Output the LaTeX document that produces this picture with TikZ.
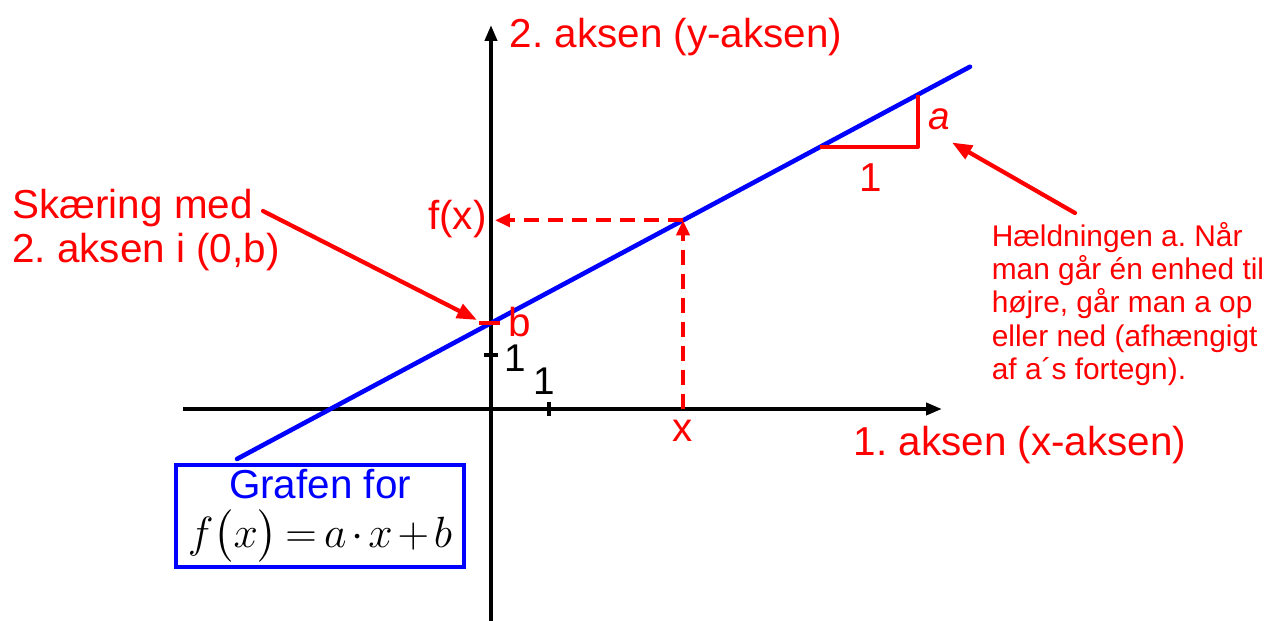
\documentclass[tikz,border=0pt]{standalone}
\usepackage{fontspec}
\setmainfont{Liberation Sans}
\usepackage{amsmath}
\usetikzlibrary{arrows.meta, calc}
\definecolor{lineRed}{RGB}{255,0,0}
\definecolor{lineBlue}{RGB}{0,0,255}
\frenchspacing
\tikzset{
    axis/.style={-{Triangle[length=3.2mm,width=2.4mm]}, line width=2.2pt, draw=black},
    graphline/.style={line width=2.6pt, draw=lineBlue, line cap=round},
    helper/.style={line width=2.2pt, draw=lineRed},
    dashhelp/.style={-{Triangle[length=3mm,width=2.6mm]}, line width=2.2pt, draw=lineRed,
        dash pattern=on 0.3cm off 0.18cm},
    pointer/.style={-{Triangle[length=4mm,width=3mm]}, line width=2.4pt, draw=lineRed, line cap=round},
    ticks/.style={line width=2.2pt, draw=black},
    biglabel/.style={font=\fontsize{23}{27}\selectfont, text=lineRed, inner sep=0pt},
    numlabel/.style={font=\fontsize{22}{26}\selectfont, inner sep=0pt},
    notelabel/.style={font=\fontsize{17}{19}\selectfont, text=lineRed, align=left, inner sep=0pt},
    graphbox/.style={draw=lineBlue, line width=2.2pt, minimum width=5.76cm, minimum height=2.04cm,
        align=center, inner sep=0pt}
}
\begin{document}
\begin{tikzpicture}
      \useasboundingbox (-9.82,-4.24) rectangle (15.54,8.18);
      % axes
      \coordinate (xL) at (-6.16,0); \coordinate (xR) at (9.02,0);
      \coordinate (yB) at (0,-4.24); \coordinate (yT) at (0,7.68);
      \draw[axis] (xL) -- (xR);
      \draw[axis] (yB) -- (yT);
      \coordinate (tx) at (1.16,0); \coordinate (ty) at (0,1.08);
      \draw[ticks] ($(tx)+(0,-0.14)$) -- ($(tx)+(0,0.14)$);
      \draw[ticks] ($(ty)+(-0.14,0)$) -- ($(ty)+(0.14,0)$);
      \node[numlabel] (one1) at (1.06,0.56) {1};
      \node[numlabel] (one2) at (0.48,1.02) {1};
      \node[biglabel] (ylab) at (3.70,7.44) {2. aksen (y-aksen)};
      \node[biglabel] (xlab) at (10.58,-0.72) {1. aksen (x-aksen)};
      % graph
      \coordinate (gL) at (-5.08,-1.0); \coordinate (gR) at (9.58,6.845);
      \draw[graphline] (gL) -- (gR);
      % x and f(x)
      \coordinate (X) at (3.84,0); \coordinate (FX) at (3.84,3.774);
      \coordinate (Fy) at (0.08,3.774);
      \draw[dashhelp] (X) -- (FX);
      \draw[dashhelp] (FX) -- (Fy);
      \node[biglabel] (xval) at (3.84,-0.44) {x};
      \node[biglabel, anchor=east] (fval) at (-0.08,3.80) {f(x)};
      % intercept
      \coordinate (bL) at (-0.24,1.72); \coordinate (bR) at (0.18,1.72);
      \draw[helper] (bL) -- (bR);
      \node[biglabel] (bval) at (0.58,1.74) {b};
      % slope triangle
      \coordinate (T1) at (6.58,5.24); \coordinate (T2) at (8.54,5.24);
      \coordinate (T3) at (8.54,6.289);
      \draw[helper, line join=round] (T1) -- (T2) -- (T3);
      \node[biglabel, font=\fontsize{22}{26}\selectfont\itshape] (aval) at (8.96,5.80) {a};
      \node[biglabel] (run) at (7.60,4.62) {1};
      % notes
      \node[biglabel, align=left, anchor=west, font=\fontsize{23}{25.5}\selectfont] (skaer) at (-9.58,3.58)
          {Skæring med\\2. aksen i (0,b)};
      \coordinate (sFrom) at (-4.56,3.96); \coordinate (sTo) at (-0.28,1.78);
      \draw[pointer] (sFrom) -- (sTo);
      \node[notelabel] (slope) at (12.74,2.10)
          {Hældningen a. Når\\man går én enhed til\\højre, går man a op\\eller ned (afhængigt\\af a´s fortegn).};
      \coordinate (aFrom) at (11.68,3.92); \coordinate (aTo) at (9.22,5.33);
      \draw[pointer] (aFrom) -- (aTo);
      % box
      \node[graphbox] (gbox) at (-3.42,-2.14)
          {{\fontsize{23}{27}\selectfont\color{lineBlue}Grafen for}\\[5pt]
           {\fontsize{23}{27}\selectfont\medmuskip=2mu\thickmuskip=3mu$f\bigl(x\bigr)=a\cdot x+b$}};
    \end{tikzpicture}
\end{document}
